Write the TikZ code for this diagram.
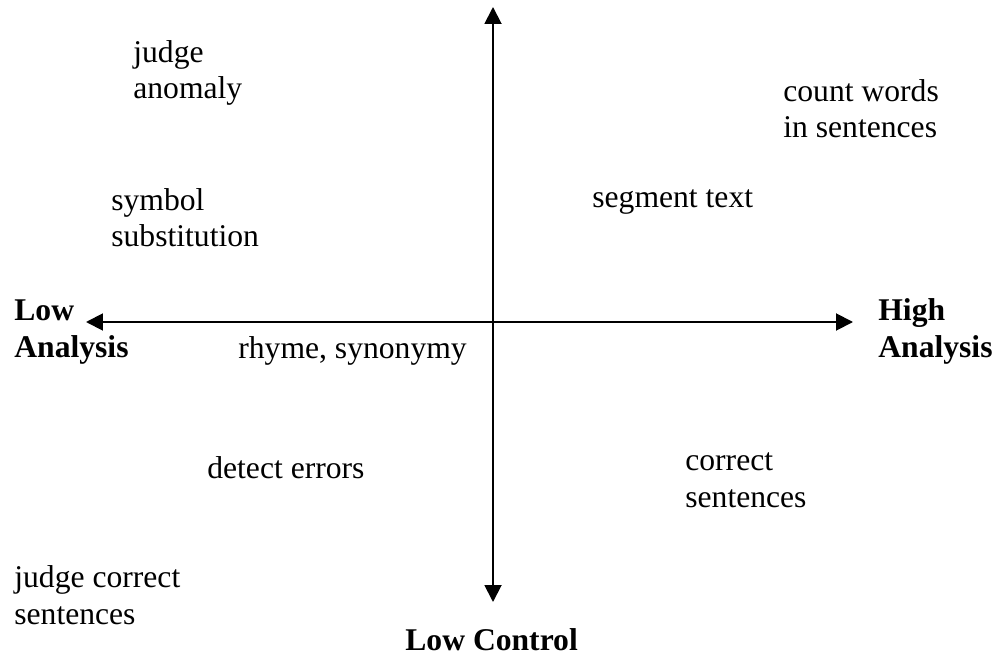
\documentclass[tikz,border=0pt]{standalone}
\usepackage{fontspec}
\setmainfont{Liberation Serif}
\usetikzlibrary{arrows.meta}

\begin{document}
\begin{tikzpicture}[x=0.02cm, y=-0.02cm,
  task/.style={anchor=base west, inner sep=0pt, align=left,
    font=\fontsize{18}{21}\selectfont},
  pole/.style={task, font=\fontsize{18}{21}\selectfont\bfseries},
  axis/.style={line width=1.1pt, {Triangle[length=0.34cm,width=0.34cm]}-{Triangle[length=0.34cm,width=0.34cm]}}]

\useasboundingbox (0,0) rectangle (997,655);

\coordinate (top) at (493,7);
\coordinate (bottom) at (493,602);
\coordinate (left) at (86,322);
\coordinate (right) at (853,322);

\draw[axis] (left) -- (right);
\draw[axis] (bottom) -- (top);

% base anchor = last line
\node[pole] (lowan) at (14,357) {Low\\Analysis};
\node[pole] (highan) at (878,357) {High\\Analysis};
\node[pole] (lowctl) at (405,650) {Low Control};

\node[task] (anomaly) at (133,99) {judge\\anomaly};
\node[task] (count) at (783,138) {count words\\in sentences};
\node[task] (symbol) at (111,247) {symbol\\substitution};
\node[task] (segment) at (592,208) {segment text};
\node[task] (rhyme) at (238,358) {rhyme, synonymy};
\node[task] (correct) at (685,507) {correct\\sentences};
\node[task] (detect) at (207,478) {detect errors};
\node[task] (judgecor) at (14,624) {judge correct\\sentences};

\end{tikzpicture}
\end{document}
